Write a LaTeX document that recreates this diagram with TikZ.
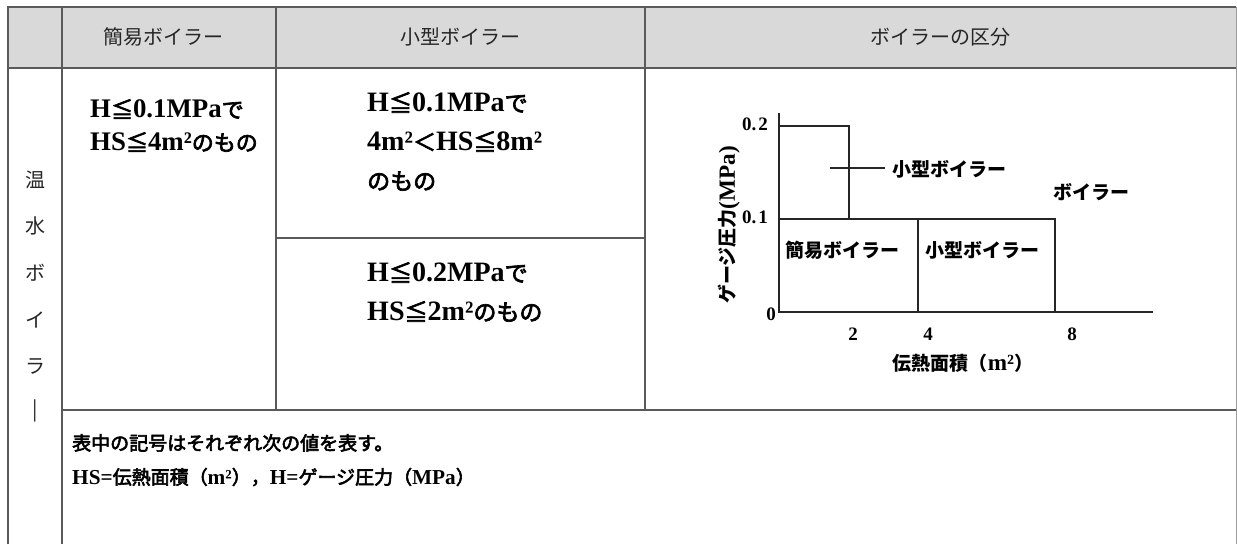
\documentclass[tikz,border=0pt]{standalone}
\usepackage{fontspec}
\newfontfamily\jp{Noto Sans CJK JP}
\newfontfamily\jpm[FakeBold=3]{Noto Sans CJK JP}
\newfontfamily\lt{Liberation Serif}
\newfontfamily\ltc[Scale=1.22]{Liberation Serif}
\newfontfamily\ltn[Scale=1.12]{Liberation Serif}
\newcommand{\jb}[1]{{\jpm #1}}
\newcommand{\lb}[1]{{\ltn\bfseries #1}}
\newcommand{\lc}[1]{{\ltc\bfseries #1}}
\definecolor{rule}{HTML}{5A5A5A}
\definecolor{headfill}{HTML}{D9D9D9}
\tikzset{
  grid line/.style={draw=rule, line width=1.6pt},
  head/.style={font=\jp\fontsize{20}{22}\selectfont, inner sep=0pt, text=black!85},
  side/.style={font=\jp\fontsize{20}{22}\selectfont, inner sep=0pt, text=black!85},
  cellA/.style={font=\fontsize{22}{33}\selectfont, inner sep=0pt, anchor=north west, align=left},
  cellB/.style={font=\fontsize{23}{39}\selectfont, inner sep=0pt, anchor=north west, align=left},
  chart/.style={line width=1.1pt, draw=black!85},
  clab/.style={font=\jp\bfseries\fontsize{19}{20}\selectfont, inner sep=0pt},
  cnum/.style={font=\lt\bfseries\fontsize{19}{20}\selectfont, inner sep=0pt},
  note/.style={font=\fontsize{19}{34}\selectfont, inner sep=0pt, anchor=north west, align=left}
}
\begin{document}
\begin{tikzpicture}[x=1pt,y=-1pt]
\useasboundingbox (0,0) rectangle (1237,544);
\fill[white] (0,0) rectangle (1237,544);
% header
\fill[headfill] (8,7) rectangle (1236,68);
% grid
\draw[grid line] (8,544) -- (8,7) -- (1236,7);
\draw[draw=rule!60, line width=1pt] (1236,7) -- (1236,544);
\draw[grid line] (8,68) -- (1236,68);
\draw[grid line] (62,7) -- (62,544);
\draw[grid line] (276,7) -- (276,410);
\draw[grid line] (645,7) -- (645,410);
\draw[grid line] (276,238) -- (645,238);
\draw[grid line] (62,410) -- (1236,410);
% header texts
\node[head] (h1) at (163,37) {簡易ボイラー};
\node[head] (h2) at (460,37) {小型ボイラー};
\node[head] (h3) at (940,37) {ボイラーの区分};
% side column
\node[side] (s1) at (35,180) {温};
\node[side] (s2) at (35,226) {水};
\node[side] (s3) at (35,273) {ボ};
\node[side] (s4) at (35,320) {イ};
\node[side] (s5) at (35,366) {ラ};
\node[side] (s6) at (35,411) {|};
% cell A
\node[cellA] (ca) at (90,99) {\lc{H}\jb{≦}\lc{0.1MPa}\jb{で}\\\lc{HS}\jb{≦}\lc{4m²}\jb{のもの}};
% cell B top
\node[cellB] (cb) at (367,92) {\lc{H}\jb{≦}\lc{0.1MPa}\jb{で}\\\lc{4m²}\jb{＜}\lc{HS}\jb{≦}\lc{8m²}\\\jb{のもの}};
% cell B bottom
\node[cellB] (cc) at (367,262) {\lc{H}\jb{≦}\lc{0.2MPa}\jb{で}\\\lc{HS}\jb{≦}\lc{2m²}\jb{のもの}};
% chart
\coordinate (o) at (779,312);
\coordinate (ytop) at (779,113);
\coordinate (xend) at (1153,312);
\draw[chart] (ytop) -- (o) -- (xend);
\draw[chart] (779,126) -- (849,126) -- (849,219);
\draw[chart] (779,219) -- (1055,219) -- (1055,312);
\draw[chart] (918,219) -- (918,312);
\coordinate (la) at (830,168);
\coordinate (lb) at (885,168);
\draw[chart] (la) -- (lb);
\node[cnum] (y2) at (755,124) {0.\hspace{2pt}2};
\node[cnum] (y1) at (755,217) {0.\hspace{2pt}1};
\node[cnum] (y0) at (771,314) {0};
\node[cnum] (x2) at (853,334) {2};
\node[cnum] (x4) at (928,334) {4};
\node[cnum] (x8) at (1072,334) {8};
\node[clab, anchor=west] (k1) at (892,169) {小型ボイラー};
\node[clab, anchor=west] (k2) at (1053,192) {ボイラー};
\node[clab, anchor=west] (k3) at (785,250) {簡易ボイラー};
\node[clab, anchor=west] (k4) at (925,250) {小型ボイラー};
\node[clab] (xl) at (963,363) {伝熱面積（\lc{m²}）};
\node[clab, rotate=90] (yl) at (729,225) {ゲージ圧力\lc{(MPa)}};
% note
\node[note] (n1) at (72,434) {\jb{表中の記号はそれぞれ次の値を表す。}\\\lb{HS=}\jb{伝熱面積（}\lb{m²}\jb{），}\lb{H=}\jb{ゲージ圧力（}\lb{MPa}\jb{）}};
\end{tikzpicture}
\end{document}
